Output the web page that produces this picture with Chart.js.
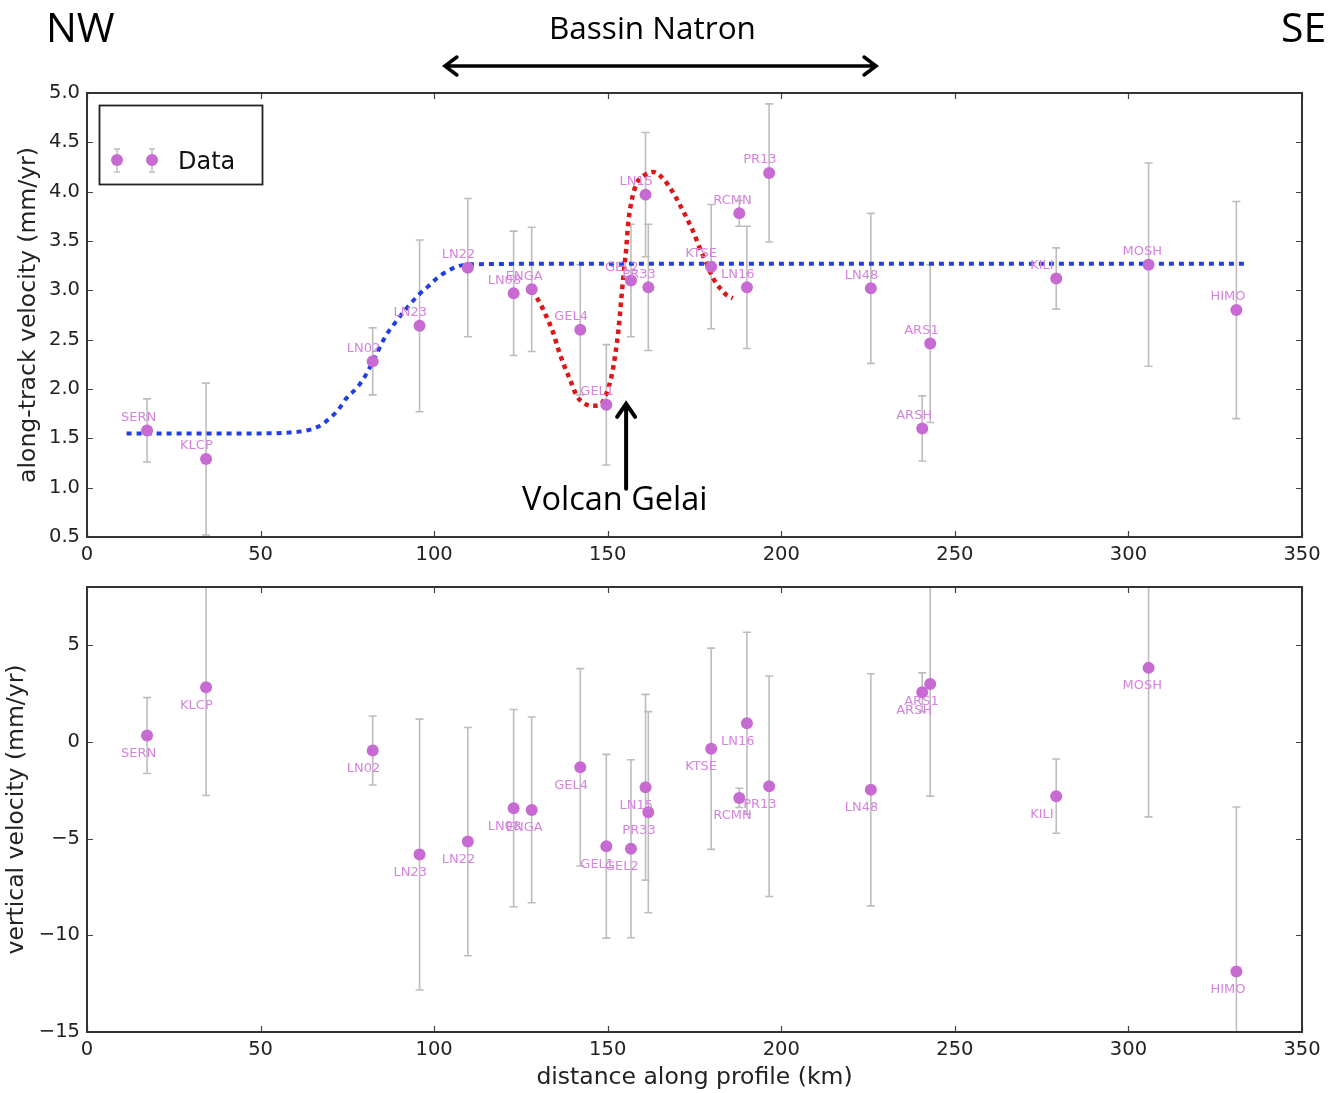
<!DOCTYPE html>
<html>
<head>
<meta charset="utf-8">
<script src="https://cdn.jsdelivr.net/npm/chart.js@4.4.1/dist/chart.umd.min.js"></script>
<style>
  html, body { margin: 0; padding: 0; background: #fff; }
  #wrap { position: relative; width: 1329px; height: 1093px; overflow: hidden; }
  canvas { position: absolute; left: 0; }
  #topChart { top: 0; }
  #bottomChart { top: 560px; }
  .note { position: absolute; font-family: 'Open Sans', sans-serif; color: #000; white-space: nowrap; line-height: 1; }
</style>
</head>
<body>
<div id="wrap">
  <canvas id="topChart" width="1329" height="580"></canvas>
  <canvas id="bottomChart" width="1329" height="533"></canvas>
  <div class="note" style="left:46px; top:6px; font-size:41px;">NW</div>
  <div class="note" style="left:1281px; top:6px; font-size:41px;">SE</div>
  <div class="note" style="left:549px; top:11px; font-size:31.5px;">Bassin Natron</div>
  <div class="note" style="left:522px; top:482px; font-size:32.5px;">Volcan Gelai</div>
</div>
<script>
// Station names and distance along the profile (km)
const stationNames = ['SERN', 'KLCP', 'LN02', 'LN23', 'LN22', 'LN08', 'ENGA', 'GEL4', 'GEL1', 'GEL2', 'LN15',
                      'PR33', 'KTSE', 'RCMN', 'LN16', 'PR13', 'LN48', 'ARSH', 'ARS1', 'KILI', 'MOSH', 'HIMO'];
const distKm = [17.3, 34.3, 82.3, 95.8, 109.7, 122.9, 128.1, 142.1, 149.6, 156.7, 160.9,
                161.7, 179.8, 187.9, 190.1, 196.5, 225.8, 240.6, 242.9, 279.2, 305.8, 331.1];

// Along-track velocity (mm/yr) and its error
const alongVel = [1.58, 1.29, 2.28, 2.64, 3.23, 2.97, 3.01, 2.60, 1.84, 3.10, 3.97,
                  3.03, 3.24, 3.78, 3.03, 4.19, 3.02, 1.60, 2.46, 3.12, 3.26, 2.80];
const alongErr = [0.32, 0.77, 0.34, 0.87, 0.70, 0.63, 0.63, 0.66, 0.61, 0.57, 0.63,
                  0.64, 0.63, 0.13, 0.62, 0.70, 0.76, 0.33, 0.80, 0.31, 1.03, 1.10];

// Vertical velocity (mm/yr) and its error
const vertVel = [0.32, 2.82, -0.45, -5.83, -5.16, -3.43, -3.52, -1.32, -5.40, -5.53, -2.35,
                 -3.64, -0.36, -2.90, 0.96, -2.30, -2.48, 2.56, 2.99, -2.81, 3.82, -11.87];
const vertErr = [1.96, 5.6, 1.78, 7.0, 5.9, 5.1, 4.8, 5.1, 4.75, 4.6, 4.8,
                 5.2, 5.2, 0.5, 4.7, 5.7, 6.0, 1.0, 5.8, 1.92, 7.7, 8.5];

// Blue model curve
const smoothKm  = [11.4, 30, 50, 58.5, 63.3, 66.7, 69.5, 72.4, 74.8, 77.7, 80.1, 83.5, 85.9, 88.3,
                   90.7, 93.1, 95.4, 98.3, 100.7, 104.1, 107.5, 111.3, 150, 250, 333.6];
const smoothVel = [1.55, 1.55, 1.55, 1.56, 1.58, 1.62, 1.69, 1.79, 1.91, 2.01, 2.13, 2.36, 2.53, 2.65,
                   2.76, 2.86, 2.95, 3.04, 3.12, 3.20, 3.25, 3.265, 3.27, 3.27, 3.27];

// Red model curve around Volcan Gelai
const gelaiKm  = [128.2, 130.5, 132.4, 134.3, 135.8, 137.2, 139.2, 141.1, 143.0, 145.4, 147.8, 149.7,
                  151.1, 152.1, 153.1, 153.8, 154.5, 155.3, 155.9, 156.9, 158.3, 160.3, 163.1, 166.0,
                  168.5, 170.9, 172.8, 174.7, 176.6, 178.5, 180.4, 182.4, 184.3, 186.0];
const gelaiVel = [3.00, 2.87, 2.73, 2.57, 2.40, 2.26, 2.09, 1.93, 1.86, 1.83, 1.84, 1.96,
                  2.13, 2.33, 2.60, 2.87, 3.14, 3.41, 3.68, 3.91, 4.08, 4.16, 4.20, 4.13,
                  4.01, 3.86, 3.73, 3.59, 3.42, 3.27, 3.12, 3.02, 2.95, 2.92];

const pointColor = '#c76ad1';
const labelColor = '#d683e0';
const errColor = '#bdbdbd';

Chart.defaults.font.family = "'DejaVu Sans', sans-serif";
Chart.defaults.color = '#222';

function toPoints(xs, ys) {
    return xs.map((x, i) => ({ x: x, y: ys[i] }));
}

function minusFmt(v) {
    return v < 0 ? '\u2212' + Math.abs(v) : String(v);
}

// Error bars under the points
const errorBars = {
    id: 'errorBars',
    beforeDatasetsDraw(chart, args, opts) {
        const { ctx, chartArea: a, scales: { x, y } } = chart;
        ctx.save();
        ctx.beginPath();
        ctx.rect(a.left, a.top, a.width, a.height);
        ctx.clip();
        ctx.strokeStyle = errColor;
        ctx.lineWidth = 1.6;
        opts.values.forEach((v, i) => {
            const px = x.getPixelForValue(distKm[i]);
            const top = y.getPixelForValue(v + opts.errors[i]);
            const bot = y.getPixelForValue(v - opts.errors[i]);
            ctx.beginPath();
            ctx.moveTo(px, top); ctx.lineTo(px, bot);
            ctx.moveTo(px - 4, top); ctx.lineTo(px + 4, top);
            ctx.moveTo(px - 4, bot); ctx.lineTo(px + 4, bot);
            ctx.stroke();
        });
        ctx.restore();
    }
};

// Station name next to each point
const stationLabels = {
    id: 'stationLabels',
    afterDatasetsDraw(chart, args, opts) {
        const { ctx, scales: { x, y } } = chart;
        ctx.save();
        ctx.font = "13px 'DejaVu Sans'";
        ctx.fillStyle = labelColor;
        ctx.textAlign = 'left';
        ctx.textBaseline = 'middle';
        opts.values.forEach((v, i) => {
            ctx.fillText(stationNames[i], x.getPixelForValue(distKm[i]) + opts.dx, y.getPixelForValue(v) + opts.dy);
        });
        ctx.restore();
    }
};

// Box round the plot and inward ticks on all four sides
const frameTicks = {
    id: 'frameTicks',
    afterDraw(chart) {
        const { ctx, chartArea: a, scales: { x, y } } = chart;
        ctx.save();
        ctx.strokeStyle = '#444';
        ctx.lineWidth = 1.2;
        ctx.beginPath();
        x.ticks.forEach(t => {
            const px = Math.round(x.getPixelForValue(t.value)) + 0.5;
            ctx.moveTo(px, a.bottom); ctx.lineTo(px, a.bottom - 6);
            ctx.moveTo(px, a.top); ctx.lineTo(px, a.top + 6);
        });
        y.ticks.forEach(t => {
            const py = Math.round(y.getPixelForValue(t.value)) + 0.5;
            ctx.moveTo(a.left, py); ctx.lineTo(a.left + 6, py);
            ctx.moveTo(a.right, py); ctx.lineTo(a.right - 6, py);
        });
        ctx.stroke();
        ctx.strokeStyle = '#333';
        ctx.lineWidth = 2;
        ctx.strokeRect(a.left, a.top, a.width, a.height);
        ctx.restore();
    }
};

// Legend box and the annotation arrows of the upper panel
const topDecor = {
    id: 'topDecor',
    afterDraw(chart) {
        const { ctx, scales: { x, y } } = chart;
        ctx.save();
        // legend
        ctx.strokeStyle = '#222';
        ctx.lineWidth = 1.8;
        ctx.strokeRect(99.5, 105.5, 163, 79);
        [117, 152].forEach(px => {
            ctx.strokeStyle = errColor;
            ctx.lineWidth = 1.4;
            ctx.beginPath();
            ctx.moveTo(px, 149); ctx.lineTo(px, 172);
            ctx.moveTo(px - 3, 149); ctx.lineTo(px + 3, 149);
            ctx.moveTo(px - 3, 172); ctx.lineTo(px + 3, 172);
            ctx.stroke();
            ctx.fillStyle = pointColor;
            ctx.beginPath();
            ctx.arc(px, 160, 6, 0, Math.PI * 2);
            ctx.fill();
        });
        ctx.fillStyle = '#111';
        ctx.font = "24px 'DejaVu Sans'";
        ctx.textBaseline = 'alphabetic';
        ctx.fillText('Data', 178, 169);

        // Bassin Natron double arrow
        ctx.strokeStyle = '#000';
        ctx.lineWidth = 3.5;
        ctx.lineCap = 'round';
        const xl = x.getPixelForValue(103.1), xr = x.getPixelForValue(227.3), ya = 66;
        ctx.beginPath();
        ctx.moveTo(xl, ya); ctx.lineTo(xr, ya);
        ctx.moveTo(xl + 12, ya - 9); ctx.lineTo(xl, ya); ctx.lineTo(xl + 12, ya + 9);
        ctx.moveTo(xr - 12, ya - 9); ctx.lineTo(xr, ya); ctx.lineTo(xr - 12, ya + 9);
        ctx.stroke();

        // Volcan Gelai arrow
        const xg = x.getPixelForValue(155.3), yt = y.getPixelForValue(1.85), yb = y.getPixelForValue(0.99);
        ctx.lineWidth = 4;
        ctx.beginPath();
        ctx.moveTo(xg, yb); ctx.lineTo(xg, yt);
        ctx.moveTo(xg - 9, yt + 13); ctx.lineTo(xg, yt); ctx.lineTo(xg + 9, yt + 13);
        ctx.stroke();
        ctx.restore();
    }
};

const tickFont = { size: 19.5 };
const titleFont = { size: 23.5, lineHeight: 1.2 };

function xScale(height, withTitle) {
    return {
        type: 'linear',
        min: 0,
        max: 350,
        grid: { display: false, drawTicks: false },
        border: { display: false },
        ticks: { stepSize: 50, autoSkip: false, maxRotation: 0, padding: 6, font: tickFont, color: '#222' },
        title: { display: withTitle, text: 'distance along profile (km)', font: titleFont, color: '#222', padding: { top: 0, bottom: 1 } },
        afterFit: s => { s.height = height; }
    };
}

// Upper panel: along-track velocity
new Chart(document.getElementById('topChart'), {
    type: 'scatter',
    data: {
        datasets: [
            {
                label: 'Data',
                data: toPoints(distKm, alongVel),
                pointRadius: 6,
                pointBackgroundColor: pointColor,
                pointBorderWidth: 0,
                order: 0
            },
            {
                label: 'model',
                data: toPoints(smoothKm, smoothVel),
                showLine: true,
                pointRadius: 0,
                borderColor: '#1f3ee6',
                borderWidth: 4,
                borderDash: [5, 5],
                cubicInterpolationMode: 'monotone',
                order: 1
            },
            {
                label: 'model Gelai',
                data: toPoints(gelaiKm, gelaiVel),
                showLine: true,
                pointRadius: 0,
                borderColor: '#e01515',
                borderWidth: 4.5,
                borderDash: [4.5, 4.5],
                cubicInterpolationMode: 'monotone',
                order: 1
            }
        ]
    },
    options: {
        responsive: false,
        animation: false,
        events: [],
        layout: { padding: { top: 93, right: 27, bottom: 3, left: 0 } },
        plugins: {
            legend: { display: false },
            tooltip: { enabled: false },
            errorBars: { values: alongVel, errors: alongErr },
            stationLabels: { values: alongVel, dx: -26, dy: -13 }
        },
        scales: {
            x: xScale(40, false),
            y: {
                type: 'linear',
                min: 0.5,
                max: 5.0,
                grid: { display: false, drawTicks: false },
                border: { display: false },
                ticks: { stepSize: 0.5, padding: 7, font: tickFont, color: '#222', callback: v => v.toFixed(1) },
                title: { display: true, text: 'along-track velocity (mm/yr)', font: titleFont, color: '#222', padding: { top: 15, bottom: 0 } },
                afterFit: s => { s.width = 87; }
            }
        }
    },
    plugins: [errorBars, stationLabels, frameTicks, topDecor]
});

// Lower panel: vertical velocity
new Chart(document.getElementById('bottomChart'), {
    type: 'scatter',
    data: {
        datasets: [
            {
                label: 'Data',
                data: toPoints(distKm, vertVel),
                pointRadius: 6,
                pointBackgroundColor: pointColor,
                pointBorderWidth: 0
            }
        ]
    },
    options: {
        responsive: false,
        animation: false,
        events: [],
        layout: { padding: { top: 27, right: 27, bottom: 0, left: 0 } },
        plugins: {
            legend: { display: false },
            tooltip: { enabled: false },
            errorBars: { values: vertVel, errors: vertErr },
            stationLabels: { values: vertVel, dx: -26, dy: 18 }
        },
        scales: {
            x: xScale(61, true),
            y: {
                type: 'linear',
                min: -15,
                max: 8,
                grid: { display: false, drawTicks: false },
                border: { display: false },
                ticks: { stepSize: 5, includeBounds: false, padding: 7, font: tickFont, color: '#222', callback: minusFmt },
                title: { display: true, text: 'vertical velocity (mm/yr)', font: titleFont, color: '#222', padding: { top: 3, bottom: 0 } },
                afterFit: s => { s.width = 87; }
            }
        }
    },
    plugins: [errorBars, stationLabels, frameTicks]
});
</script>
</body>
</html>
